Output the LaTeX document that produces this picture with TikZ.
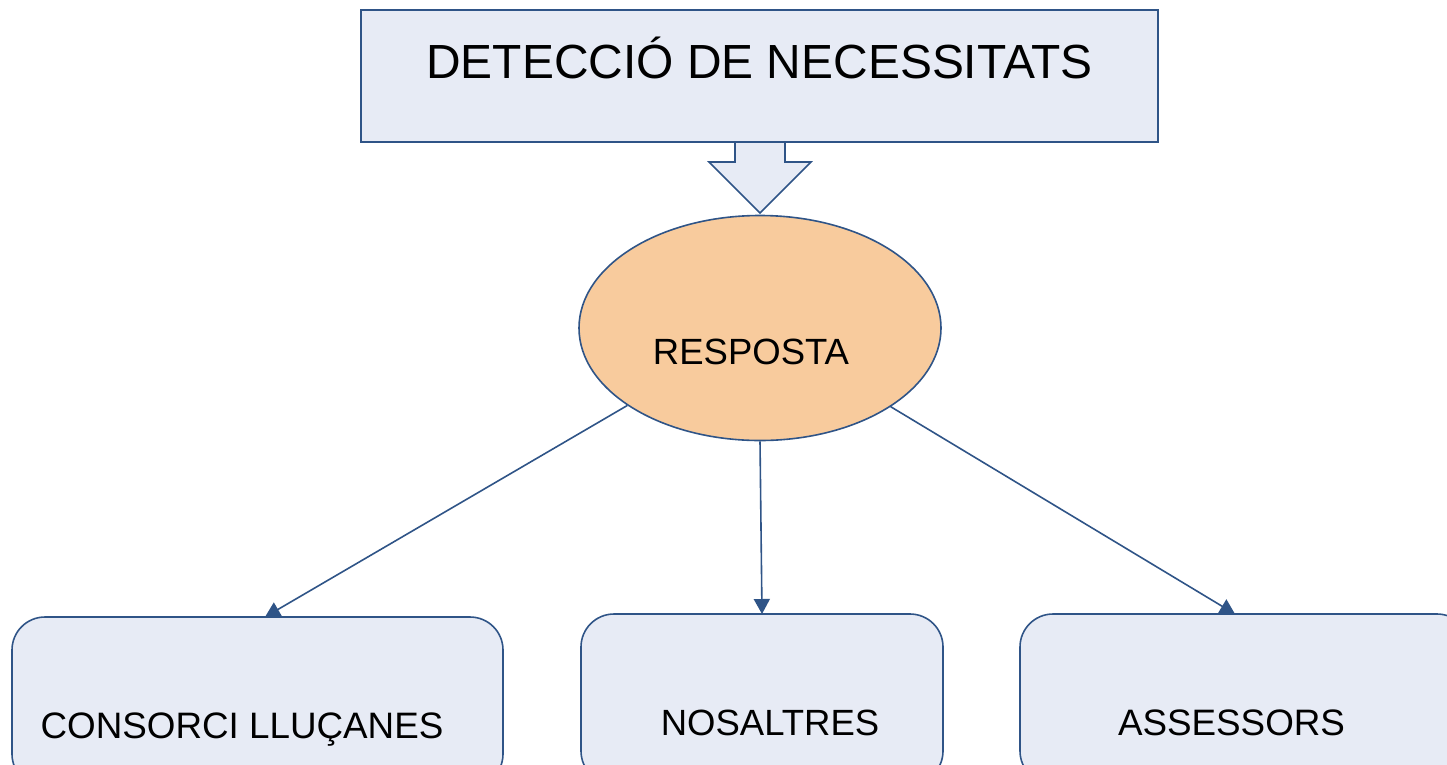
\documentclass[tikz,border=0pt]{standalone}
\usepackage{fontspec}
\setmainfont{Liberation Sans}
\usetikzlibrary{arrows.meta,shapes.geometric,calc}
\definecolor{boxfill}{HTML}{E7EBF5}
\definecolor{edge}{HTML}{2F5487}
\definecolor{peach}{HTML}{F8CB9D}
\tikzset{
  panel/.style={draw=edge, line width=1.6pt, fill=boxfill, rectangle, inner sep=0pt},
  roundpanel/.style={panel, rounded corners=33pt},
  oval/.style={draw=edge, line width=1.6pt, fill=peach, ellipse, inner sep=0pt, minimum width=362pt, minimum height=225pt},
  lbl/.style={anchor=base, inner sep=0pt, text=black},
  conn/.style={draw=edge, line width=1.6pt, -{Triangle[length=15pt,width=16pt]}}
}
\begin{document}
\begin{tikzpicture}[x=1pt,y=-1pt]
\useasboundingbox (0,0) rectangle (1447,764);
\clip (0,0) rectangle (1447,764);
% top box
\node[panel, minimum width=797pt, minimum height=132pt] (top) at (759.5,76) {};
\node[lbl, font=\fontsize{47.9}{50}\selectfont] (toptext) at (759.5,78) {DETECCIÓ DE NECESSITATS};
% block arrow
\fill[boxfill] (735,143) -- (735,162) -- (709,162) -- (760,213) -- (811,162) -- (785,162) -- (785,143) -- cycle;
\draw[edge, line width=1.6pt, line join=miter] (735,143) -- (735,162) -- (709,162) -- (760,213) -- (811,162) -- (785,162) -- (785,143);
% ellipse
\node[oval] (resp) at (760,328) {};
\node[lbl, font=\fontsize{36.5}{40}\selectfont] (resptext) at (751,364) {RESPOSTA};
% bottom boxes
\node[roundpanel, minimum width=491pt, minimum height=170pt] (c1) at (257.5,702) {};
\node[roundpanel, minimum width=362pt, minimum height=170pt] (c2) at (762,699) {};
\node[roundpanel, minimum width=450pt, minimum height=170pt] (c3) at (1245,699) {};
\node[lbl, font=\fontsize{36.8}{40}\selectfont] (t1) at (242,738) {CONSORCI LLUÇANES};
\node[lbl, font=\fontsize{36.5}{40}\selectfont] (t2) at (770,735) {NOSALTRES};
\node[lbl, font=\fontsize{36.8}{40}\selectfont] (t3) at (1231.5,735) {ASSESSORS};
% connectors
\coordinate (e1) at (265,617);
\coordinate (e2) at (762,614);
\coordinate (e3) at (1235,614);
\draw[conn] (resp) -- (e1);
\draw[conn] (resp.south) -- (e2);
\draw[conn] (resp) -- (e3);
\end{tikzpicture}
\end{document}
